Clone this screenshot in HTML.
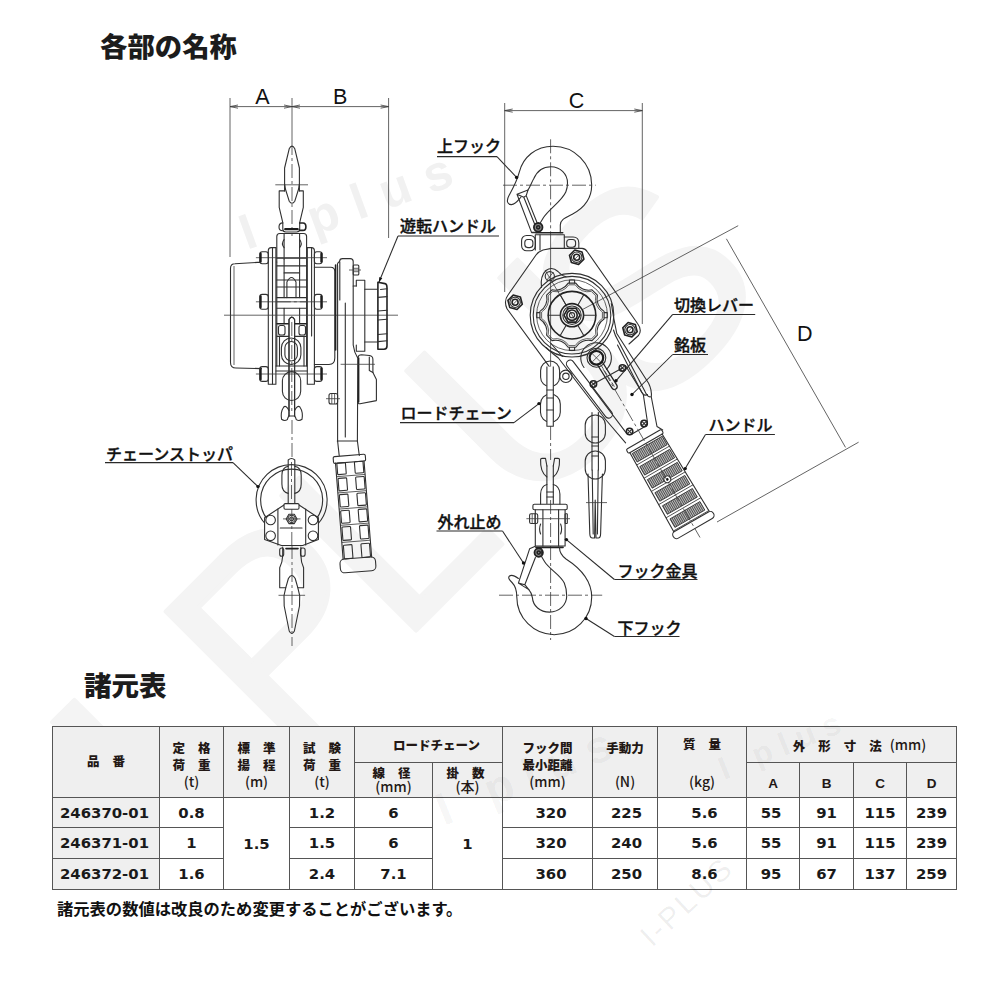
<!DOCTYPE html>
<html lang="ja">
<head>
<meta charset="utf-8">
<title>各部の名称 / 諸元表</title>
<style>
html,body{margin:0;padding:0;background:#fff;}
body{width:1000px;height:993px;position:relative;overflow:hidden;font-family:"Liberation Sans","Noto Sans CJK JP",sans-serif;color:#1a1a1a;}
.page{position:absolute;left:0;top:0;width:1000px;height:993px;overflow:hidden;background:#fff;}
h1,h2{position:absolute;margin:0;font-family:"Liberation Sans","Noto Sans CJK JP",sans-serif;font-weight:900;font-size:27px;line-height:30px;color:#1c1c1c;white-space:nowrap;letter-spacing:0;}
h1{left:100px;top:33px;font-size:27.4px;}
h2{left:84px;top:672px;font-size:27.5px;}
.wm{position:absolute;left:0;top:0;}
.wm2{position:absolute;left:0;top:0;pointer-events:none;}
.dwg{position:absolute;left:0;top:0;}
.dwg .l{fill:none;stroke:#303030;stroke-width:1.1;stroke-linecap:round;stroke-linejoin:round;}
.dwg .t{fill:none;stroke:#3c3c3c;stroke-width:.8;}
.dwg .kk{fill:none;stroke:#1c1c1c;stroke-width:2.2;stroke-linecap:round;}
.dwg .k{fill:none;stroke:#222;stroke-width:1.6;stroke-linecap:round;stroke-linejoin:round;}
.dwg .w{fill:#fff;stroke:#303030;stroke-width:1.1;stroke-linejoin:round;}
.dwg .c{fill:none;stroke:#3c3c3c;stroke-width:.8;stroke-dasharray:14 3 3 3;}
.dwg .ld{fill:none;stroke:#2a2a2a;stroke-width:1.05;}
.dwg .lb{font-family:"Liberation Sans","Noto Sans CJK JP",sans-serif;font-size:16px;font-weight:500;fill:#111;stroke:#111;stroke-width:.35px;}
.dwg .dm{font-family:"Liberation Sans","Noto Sans CJK JP",sans-serif;font-size:21.5px;font-weight:400;fill:#111;}
.note{position:absolute;left:57px;top:896.5px;margin:0;font-size:16.3px;line-height:24px;font-weight:700;color:#111;white-space:nowrap;}

table.spec{position:absolute;left:52px;top:726px;border-collapse:separate;border-spacing:0;table-layout:fixed;width:905px;border-left:1px solid #555;border-top:1px solid #555;}
table.spec th,table.spec td{box-sizing:border-box;border-right:1px solid #555;border-bottom:1px solid #555;padding:0;text-align:center;vertical-align:middle;overflow:hidden;white-space:nowrap;}
table.spec th{background:#efefef;font-family:"Liberation Sans","Noto Sans CJK JP",sans-serif;font-weight:900;font-size:12.5px;line-height:17.4px;color:#231815;padding-top:10px;}
table.spec th .sp{letter-spacing:13px;margin-right:-13px;}
table.spec th .u{font-family:"Noto Sans CJK JP","Liberation Sans",sans-serif;font-weight:500;font-size:14px;letter-spacing:0;line-height:0;position:relative;top:-1px;}
table.spec th.pnh{padding-top:2px;}
table.spec th.lc{padding-left:16px;}
table.spec th.dim{padding-left:16px;}
table.spec th.dim .sp{margin-right:-5px;}
table.spec tr.h2 th .sp{position:relative;left:-2px;}
table.spec th .sp2{letter-spacing:17px;}
table.spec tr.h1{height:36px;}
table.spec tr.h2{height:35px;}
table.spec tr.h1 th.one{padding-top:4px;}
table.spec tr.h1 th.up{padding-top:3px;}
table.spec tr.h1 th.up .u{top:3px;}
table.spec tr.h1 th.dim{padding-top:7px;}
table.spec tr.h2 th.ab{font-size:13.5px;padding-top:7px;}
table.spec tr.h2 th{line-height:15px;padding-top:3px;}
table.spec td{font-family:"DejaVu Sans","Liberation Sans",sans-serif;font-weight:700;font-size:14.9px;line-height:18px;color:#1a1a1a;background:#fff;}
table.spec td.pn{background:#efefef;padding-right:3px;}
table.spec td.c7{padding-left:7px;}
table.spec td.c8{padding-left:3px;}
table.spec td.c9{padding-left:5px;}
table.spec td.c10{padding-right:4px;}
table.spec tr.r1{height:30px;}
table.spec tr.r2{height:31px;}
table.spec tr.r3{height:31px;}

</style>
</head>
<body>
<div class="page">
<svg class="wm" width="1000" height="993" viewBox="0 0 1000 993" aria-hidden="true">
<g font-family="Liberation Sans, sans-serif" fill="#f4f4f4" stroke="#f4f4f4" stroke-width="4" stroke-linejoin="round">
<text transform="translate(194.8,909.2) rotate(-45)" font-size="339">I</text>
<text transform="translate(284.3,762.3) rotate(-45)" font-size="277">P</text>
<text transform="translate(400,646.6) rotate(-45)" font-size="277">L</text>
<text transform="translate(525.9,520.8) rotate(-45)" font-size="277">U</text>
<text transform="translate(644.3,421.3) rotate(-45)" font-size="277">S</text>
</g>
<g font-family="Liberation Sans, sans-serif" font-weight="700" fill="#f1f1f1">
<text transform="translate(247,250) rotate(-20)" font-size="50">I</text>
<text transform="translate(314.5,236) rotate(-20)" font-size="50" letter-spacing="16">plus</text>
</g>
</svg>
<h1>各部の名称</h1>
<svg class="dwg" width="1000" height="660" viewBox="0 0 1000 660">
<defs><pattern id="hatch" width="1.9" height="4" patternUnits="userSpaceOnUse"><rect width="1.9" height="4" fill="#d2d2d2"/><line x1="0.6" y1="0" x2="0.6" y2="4" stroke="#383838" stroke-width=".95"/></pattern></defs>
<line class="t" x1="230.0" y1="98.0" x2="230.0" y2="257.0"/>
<line class="t" x1="388.6" y1="98.0" x2="388.6" y2="238.0"/>
<line class="t" x1="292.0" y1="98.0" x2="292.0" y2="141.0"/>
<line class="t" x1="230.0" y1="106.6" x2="388.6" y2="106.6"/>
<path class="t" d="M238.0,105.0 L230.0,106.6 L238.0,108.2"/>
<path class="t" d="M284.0,108.2 L292.0,106.6 L284.0,105.0"/>
<path class="t" d="M300.0,105.0 L292.0,106.6 L300.0,108.2"/>
<path class="t" d="M380.6,108.2 L388.6,106.6 L380.6,105.0"/>
<text class="dm" x="262.3" y="103.6" text-anchor="middle">A</text>
<text class="dm" x="340.2" y="103.6" text-anchor="middle">B</text>
<line class="c" x1="292.0" y1="141.0" x2="292.0" y2="236.0"/>
<line class="c" x1="292.0" y1="420.0" x2="292.0" y2="460.0"/>
<line class="c" x1="292.0" y1="545.0" x2="292.0" y2="646.0"/>
<path class="l" d="M289.2,148.8 Q292,143.5 294.8,148.8 L299.4,168 L299.4,191 M289.2,148.8 L284.6,168 L284.6,191"/>
<path class="l" d="M284.6,184 L285.4,189 L289.2,201.2 Q292,205.2 294.8,201.2 L298.6,189 L299.4,184"/>
<line class="t" x1="275.3" y1="184.8" x2="308.0" y2="184.8"/>
<path class="l" d="M284.6,190.9 L279.2,190.9 L279.2,207.4 L282.8,222.7 L282.8,229 Q282.8,232 285.8,232 L296.7,232 Q299.7,232 299.7,229 L299.7,222.7 L303.3,207.4 L303.3,190.9 L299.4,190.9"/>
<path class="l" d="M282.8,222.9 Q279,223 279,227 Q279,230.8 282.8,230.8"/>
<path class="k" d="M299.7,223 L303,223 Q305.9,223 305.9,226.7 Q305.9,230.4 303,230.4 L299.7,230.4"/>
<line class="kk" x1="285.2" y1="229.2" x2="297.7" y2="229.2"/>
<path class="l" d="M276.8,262 L276.8,236.5 Q276.8,233.5 279.8,233.5 L303.6,233.5 Q306.6,233.5 306.6,236.5 L306.6,262"/>
<path class="l" d="M284.1,239.6 Q280.8,243.6 284.1,247.7 M299.6,239.6 Q302.9,243.6 299.6,247.7"/>
<line class="l" x1="284.1" y1="234.0" x2="284.1" y2="259.0"/>
<line class="l" x1="299.6" y1="234.0" x2="299.6" y2="259.0"/>
<path class="l" d="M268.3,384.3 L268.3,250.6 Q268.3,247.6 271.3,247.6 L275.9,247.6 L275.9,384.3 Z"/>
<path class="l" d="M307.3,384.3 L307.3,247.6 L311.4,247.6 Q314.4,247.6 314.4,250.6 L314.4,384.3 Z"/>
<line class="l" x1="272.5" y1="248.0" x2="272.5" y2="384.0"/>
<line class="l" x1="311.6" y1="248.0" x2="311.6" y2="336.0"/>
<line class="l" x1="276.8" y1="262.0" x2="276.8" y2="366.0"/>
<line class="l" x1="306.6" y1="262.0" x2="306.6" y2="366.0"/>
<line class="l" x1="276.8" y1="258.1" x2="306.6" y2="258.1"/>
<line class="l" x1="276.8" y1="265.9" x2="306.6" y2="265.9"/>
<line class="l" x1="276.8" y1="280.0" x2="306.6" y2="280.0"/>
<line class="l" x1="276.8" y1="287.0" x2="306.6" y2="287.0"/>
<line class="l" x1="276.8" y1="297.6" x2="306.6" y2="297.6"/>
<line class="l" x1="276.8" y1="308.2" x2="306.6" y2="308.2"/>
<line class="l" x1="284.1" y1="272.9" x2="299.6" y2="272.9"/>
<line class="l" x1="284.1" y1="259.0" x2="284.1" y2="297.6"/>
<line class="l" x1="299.6" y1="259.0" x2="299.6" y2="297.6"/>
<path class="l" d="M286.9,297.6 L286.9,282 Q291.5,273 296,282 L296,297.6"/>
<line class="c" x1="276.8" y1="301.8" x2="306.6" y2="301.8"/>
<line class="l" x1="284.1" y1="308.2" x2="284.1" y2="323.7"/>
<line class="l" x1="299.6" y1="308.2" x2="299.6" y2="323.7"/>
<line class="k" x1="277.0" y1="323.7" x2="306.4" y2="323.7"/>
<line class="l" x1="277.0" y1="336.4" x2="306.4" y2="336.4"/>
<rect class="l" x="278.5" y="325.5" width="6.5" height="9.5" rx="2"/>
<rect class="l" x="299.0" y="325.5" width="6.5" height="9.5" rx="2"/>
<line class="l" x1="279.5" y1="337.0" x2="279.5" y2="366.0"/>
<line class="l" x1="304.0" y1="337.0" x2="304.0" y2="366.0"/>
<path class="w" d="M289,416 L289,319.5 Q291.8,314.8 294.6,319.5 L294.6,416"/>
<line class="c" x1="291.8" y1="322.0" x2="291.8" y2="414.0"/>
<rect class="l" x="281.4" y="338.0" width="19.5" height="26.5" rx="9.75"/>
<rect class="l" x="284.9" y="341.5" width="12.5" height="19.5" rx="6.25"/>
<path class="l" d="M289,416 L289,319.5 Q291.8,314.8 294.6,319.5 L294.6,416"/>
<line class="l" x1="276.0" y1="366.0" x2="307.0" y2="366.0"/>
<line class="l" x1="276.0" y1="371.0" x2="307.0" y2="371.0"/>
<line class="t" x1="255.9" y1="257.7" x2="327.0" y2="257.7"/>
<rect class="l" x="259.8" y="251.7" width="8.5" height="12.0" rx="2.5"/>
<rect class="l" x="314.4" y="251.7" width="7.7" height="12.0" rx="2.5"/>
<line class="kk" x1="260.6" y1="253.7" x2="260.6" y2="261.7"/>
<line class="kk" x1="321.4" y1="253.7" x2="321.4" y2="261.7"/>
<line class="t" x1="255.9" y1="301.8" x2="327.0" y2="301.8"/>
<rect class="l" x="259.8" y="294.4" width="8.5" height="14.8" rx="2.5"/>
<rect class="l" x="314.4" y="294.4" width="7.7" height="14.8" rx="2.5"/>
<line class="kk" x1="260.6" y1="296.4" x2="260.6" y2="307.2"/>
<line class="kk" x1="321.4" y1="296.4" x2="321.4" y2="307.2"/>
<line class="t" x1="255.9" y1="374.0" x2="327.0" y2="374.0"/>
<rect class="l" x="259.8" y="366.6" width="8.5" height="14.8" rx="2.5"/>
<rect class="l" x="314.4" y="366.6" width="7.7" height="14.8" rx="2.5"/>
<line class="kk" x1="260.6" y1="368.6" x2="260.6" y2="379.4"/>
<line class="kk" x1="321.4" y1="368.6" x2="321.4" y2="379.4"/>
<path class="l" d="M259.8,262.4 L257.3,262.4 L235,263.8 Q230.5,263.8 230.5,268.5 L230.5,362.4 Q230.5,368 236,368 L261.5,368.6"/>
<line class="t" x1="234.0" y1="266.0" x2="234.0" y2="365.0"/>
<path class="l" d="M314.4,267.3 L330.6,267.3 Q334.8,267.3 334.8,271.5 L334.8,358 Q334.8,364.5 329,364.5 L314.4,364.5"/>
<line class="t" x1="224.0" y1="315.2" x2="398.0" y2="315.2"/>
<rect class="l" x="282.4" y="371.6" width="18.3" height="28.9" rx="9.15"/>
<path class="l" d="M289,410.5 Q286,404.5 283.6,407.2 Q280.3,412 281.6,419.3 Q284.5,421.5 287.3,419.6 Q288,417 289,416 M294.6,410.5 Q297.6,404.5 300,407.2 Q303.3,412 302,419.3 Q299.1,421.5 296.3,419.6 Q295.6,417 294.6,416"/>
<line class="l" x1="289.0" y1="416.0" x2="294.6" y2="416.0"/>
<line class="k" x1="335.6" y1="265.0" x2="335.6" y2="350.0"/>
<path class="l" d="M337.6,441 L337.6,266 Q336.8,263 339.6,261.5 Q339.6,258.6 342.6,258.6 L350.2,258.6 Q353.2,258.6 353.2,261.6 L353.2,345 Q354,352 357.8,358.3 L357.4,441"/>
<line class="l" x1="339.8" y1="262.0" x2="339.8" y2="300.0"/>
<line class="l" x1="345.3" y1="303.0" x2="345.3" y2="437.0"/>
<rect class="l" x="353.2" y="265.0" width="5.6" height="10.0" rx="1"/>
<line class="t" x1="353.2" y1="268.3" x2="358.8" y2="268.3"/>
<line class="t" x1="353.2" y1="271.7" x2="358.8" y2="271.7"/>
<line class="t" x1="349.0" y1="270.0" x2="361.0" y2="270.0"/>
<path class="l" d="M356.3,286 L356.3,280.3 L364.8,280.3 L364.8,351.2 L356.3,351.2 L356.3,345"/>
<line class="l" x1="353.2" y1="286.0" x2="356.3" y2="286.0"/>
<path class="l" d="M364.8,289.3 L376.9,289.3 M364.8,342 L376.9,342"/>
<path class="k" d="M377.9,349.2 L377.9,282.3 L385,283.6 Q387,284 387,288 L387,346 Q387,349.2 384,349.2 Z"/>
<line class="l" x1="380.5" y1="289.5" x2="387.0" y2="288.7"/>
<line class="l" x1="378.0" y1="297.4" x2="387.0" y2="296.6"/>
<line class="l" x1="378.0" y1="311.0" x2="387.0" y2="310.2"/>
<line class="l" x1="378.0" y1="320.0" x2="387.0" y2="319.2"/>
<line class="l" x1="378.0" y1="334.5" x2="387.0" y2="333.7"/>
<line class="l" x1="378.0" y1="341.6" x2="387.0" y2="340.8"/>
<path class="l" d="M357.8,357.5 Q358.5,354.7 361.5,354.7 L369.5,355.5 Q372.9,356 372.9,359.5 L372.9,372.4 L376.4,379.4 L376.4,400.6 L360,403.8 Q357.8,404 357.8,401.5"/>
<path class="l" d="M369.3,357 L369.3,370.5 L372.9,372.4"/>
<line class="k" x1="358.6" y1="358.0" x2="358.6" y2="402.0"/>
<line class="t" x1="340.6" y1="364.3" x2="374.9" y2="364.3"/>
<rect class="l" x="329.0" y="393.5" width="8.6" height="10.5" rx="2"/>
<line class="t" x1="331.8" y1="393.5" x2="331.8" y2="404.0"/>
<line class="t" x1="334.6" y1="393.5" x2="334.6" y2="404.0"/>
<line class="t" x1="326.0" y1="398.7" x2="340.0" y2="398.7"/>
<line class="l" x1="337.3" y1="441.0" x2="357.4" y2="441.0"/>
<path class="l" d="M337.6,441 L339.2,455.5 M357.4,441 L359.3,455.5"/>
<g transform="translate(349.75,462) rotate(-4.55)">
<rect class="l" x="-16.2" y="-6.6" width="32.2" height="6.8" rx="1.5"/>
<line class="l" x1="-14.3" y1="0.0" x2="-14.3" y2="96.3"/>
<line class="l" x1="14.3" y1="0.0" x2="14.3" y2="96.3"/>
<rect class="l" x="-17.8" y="96.3" width="35.6" height="13.8" rx="4.5"/>
<rect class="l" x="-13.0" y="0.2" width="8.6" height="11.5" rx="0.8"/>
<rect class="l" x="4.6" y="0.2" width="8.6" height="11.5" rx="0.8"/>
<line class="t" x1="-14.3" y1="13.6" x2="14.3" y2="13.6"/>
<rect class="l" x="-13.0" y="15.5" width="8.6" height="12.5" rx="0.8"/>
<rect class="l" x="4.6" y="15.5" width="8.6" height="12.5" rx="0.8"/>
<line class="t" x1="-14.3" y1="29.9" x2="14.3" y2="29.9"/>
<rect class="l" x="-13.0" y="31.8" width="8.6" height="12.4" rx="0.8"/>
<rect class="l" x="4.6" y="31.8" width="8.6" height="12.4" rx="0.8"/>
<line class="t" x1="-14.3" y1="46.1" x2="14.3" y2="46.1"/>
<rect class="l" x="-13.0" y="48.0" width="8.6" height="12.5" rx="0.8"/>
<rect class="l" x="4.6" y="48.0" width="8.6" height="12.5" rx="0.8"/>
<line class="t" x1="-14.3" y1="62.4" x2="14.3" y2="62.4"/>
<rect class="l" x="-13.0" y="64.3" width="8.6" height="13.4" rx="0.8"/>
<rect class="l" x="4.6" y="64.3" width="8.6" height="13.4" rx="0.8"/>
<line class="t" x1="-14.3" y1="79.6" x2="14.3" y2="79.6"/>
<rect class="l" x="-13.0" y="82.5" width="8.6" height="13.7" rx="0.8"/>
<rect class="l" x="4.6" y="82.5" width="8.6" height="13.7" rx="0.8"/>
</g>
<path class="l" d="M288.2,503 L288.2,460 Q291.5,457 294.8,460 L294.8,503"/>
<line class="c" x1="291.5" y1="462.0" x2="291.5" y2="500.0"/>
<path class="l" d="M264.9,523.5 A35.5,35.5 0 1 1 318.3,523.5"/>
<path class="l" d="M268.3,520.5 A31,31 0 1 1 315,520.5"/>
<path class="l" d="M288.2,466.3 Q281.9,467.5 281.9,475.5 L281.9,484 Q281.9,492 288.2,493.4 M294.8,466.3 Q301.2,467.5 301.2,475.5 L301.2,484 Q301.2,492 294.8,493.4"/>
<path class="w" d="M284,505 L264.6,517.7 L264.6,539.4 L281.5,545.5 L302.7,545.5 L318.4,539.4 L318.4,517.7 L299,505 Z"/>
<rect class="w" x="284.0" y="503.6" width="15.0" height="5.6" rx="1.2"/>
<line class="l" x1="277.9" y1="509.0" x2="277.9" y2="545.0"/>
<line class="l" x1="305.7" y1="509.0" x2="305.7" y2="545.0"/>
<circle class="l" cx="270.6" cy="520.0" r="4.8"/>
<circle class="l" cx="270.6" cy="535.8" r="4.8"/>
<circle class="l" cx="313.0" cy="520.0" r="4.8"/>
<circle class="l" cx="313.0" cy="535.8" r="4.8"/>
<path class="l" d="M297.0,518.9 L294.3,523.6 L288.9,523.6 L286.2,518.9 L288.9,514.2 L294.3,514.2 Z"/>
<circle class="l" cx="291.6" cy="518.9" r="3.6"/>
<circle class="l" cx="291.6" cy="518.9" r="1.9"/>
<line class="t" x1="283.0" y1="518.9" x2="300.5" y2="518.9"/>
<line class="l" x1="280.3" y1="528.0" x2="302.0" y2="528.0"/>
<line class="c" x1="291.8" y1="509.0" x2="291.8" y2="545.0"/>
<rect class="l" x="279.7" y="548.0" width="4.0" height="8.3" rx="2"/>
<rect class="l" x="300.5" y="548.0" width="4.6" height="8.3" rx="2"/>
<line class="k" x1="286.0" y1="548.6" x2="298.0" y2="548.6"/>
<path class="l" d="M282.7,547 L282.7,555.7 Q282.5,562 279.7,567.8 L279.7,587.7 L285.8,587.7 L288.4,578.5 Q291.8,572.5 295.2,578.5 L297.8,587.7 L303.6,587.7 L303.6,567.8 Q300.9,562 300.9,555.7 L300.9,547"/>
<path class="l" d="M285.8,587.7 L284,595.6 L284.2,606 L289.2,631 Q291.8,636 294.4,631 L299.5,606 L299.7,595.6 L297.8,587.7"/>
<line class="t" x1="278.5" y1="595.3" x2="305.1" y2="595.3"/>
<line class="t" x1="504.7" y1="103.0" x2="504.7" y2="292.0"/>
<line class="t" x1="642.3" y1="103.0" x2="642.3" y2="324.0"/>
<line class="t" x1="504.7" y1="110.6" x2="642.3" y2="110.6"/>
<path class="t" d="M512.7,109.0 L504.7,110.6 L512.7,112.2"/>
<path class="t" d="M634.3,112.2 L642.3,110.6 L634.3,109.0"/>
<text class="dm" x="576.4" y="107.6" text-anchor="middle">C</text>
<line class="t" x1="582.0" y1="309.8" x2="738.2" y2="225.7"/>
<line class="t" x1="726.4" y1="238.8" x2="845.5" y2="447.4"/>
<line class="t" x1="717.0" y1="522.0" x2="858.6" y2="442.2"/>
<text class="dm" x="804.7" y="340.9" text-anchor="middle">D</text>
<line class="c" x1="550.6" y1="139.3" x2="550.6" y2="236.0"/>
<line class="c" x1="503.0" y1="185.2" x2="595.7" y2="185.2"/>
<line class="t" x1="550.6" y1="236.0" x2="550.6" y2="372.0"/>
<line class="c" x1="550.6" y1="426.0" x2="550.6" y2="460.0"/>
<line class="c" x1="550.6" y1="500.0" x2="550.6" y2="640.0"/>
<line class="c" x1="499.0" y1="595.2" x2="602.2" y2="595.2"/>
<path class="l" d="M560.3,232.8 L560.3,225 C560.3,219.5 566,217.5 572.3,214.2 C584,208 591.7,198 591.7,185 C591.7,163.5 574.5,146.2 553,146.2 C536,146.2 523,157 519.2,172.3 C517,181 512.5,189 509,195.5 C506,201 507.5,204.8 511.5,204.6 C515.5,204.4 518,200.5 521,197"/>
<path class="l" d="M528,190 C530.5,186 531.8,182 533.7,178.8 C537,171 543.5,166.7 551,166.7 C560,166.7 567.5,174 567.5,183 C567.5,186 567,189 565.9,191.7 C562,201 549,209 543.5,217.5 L540.5,222.5"/>
<path class="l" d="M517,194.3 L528,190 L526.2,195.6 L537,222.5 M517,194.3 L523.8,197.2 L526.2,195.6 M517,194.3 L531.5,232.4 L536.5,232.4 M523.8,197.2 L534.8,224.5"/>
<circle cx="538.2" cy="227.3" r="4.3" fill="#8a8a8a" stroke="#222" stroke-width="1.8"/>
<circle class="k" cx="538.2" cy="227.3" r="1.6"/>
<line class="k" x1="536.0" y1="232.8" x2="562.7" y2="232.8"/>
<line class="l" x1="532.0" y1="232.8" x2="536.0" y2="232.8"/>
<path class="l" d="M535.3,250 L535.3,234.7 L564.3,234.7 L564.3,248.4"/>
<rect class="l" x="521.6" y="235.5" width="13.7" height="15.3" rx="5"/>
<rect class="l" x="524.8" y="239.5" width="8.1" height="8.1" rx="3"/>
<path class="l" d="M564.3,237 L573,237 Q578.8,237 578.8,243 L578.8,248.4"/>
<rect class="l" x="566.7" y="239.5" width="8.9" height="7.8" rx="3"/>
<line class="l" x1="540.0" y1="235.0" x2="540.0" y2="250.0"/>
<path class="l" d="M507,308.8 L550.6,368.4 M507,308.8 Q503.5,301 508,295 L536,255 Q538.5,251.5 543,250 L551.4,248.4 L582,248.4 Q585.5,248.6 587.5,252 L637.5,323.5 Q642.5,330 638.5,335.5 L629,344"/>
<path class="k" d="M583.9,259.1 L578.6,264.4 L571.4,262.5 L569.5,255.3 L574.8,250.0 L582.0,251.9 Z"/>
<circle class="l" cx="576.7" cy="257.2" r="5.2"/>
<circle class="k" cx="576.7" cy="257.2" r="3.0"/>
<line class="t" x1="574.7" y1="259.2" x2="578.7" y2="255.2"/>
<path class="k" d="M522.3,304.2 L517.0,309.5 L509.8,307.6 L507.9,300.4 L513.2,295.1 L520.4,297.0 Z"/>
<circle class="l" cx="515.1" cy="302.3" r="5.2"/>
<circle class="k" cx="515.1" cy="302.3" r="3.0"/>
<line class="t" x1="513.1" y1="304.3" x2="517.1" y2="300.3"/>
<path class="k" d="M637.2,331.6 L631.9,336.9 L624.7,335.0 L622.8,327.8 L628.1,322.5 L635.3,324.4 Z"/>
<circle class="l" cx="630.0" cy="329.7" r="5.2"/>
<circle class="k" cx="630.0" cy="329.7" r="3.0"/>
<line class="t" x1="628.0" y1="331.7" x2="632.0" y2="327.7"/>
<circle class="l" cx="572.0" cy="315.2" r="41.8"/>
<circle class="l" cx="572.0" cy="315.2" r="38.8"/>
<circle class="t" cx="572.0" cy="315.2" r="35.4"/>
<path class="l" d="M541.5,287.5 Q540,276 546,270.5 Q552,266 558,271.5 Q562,276 566,276.8"/>
<circle class="l" cx="549.8" cy="276.2" r="4.6"/>
<line class="t" x1="545.0" y1="270.0" x2="575.0" y2="320.0"/>
<line class="t" x1="546.5" y1="280.5" x2="553.5" y2="272.0"/>
<path class="l" d="M604.1,311.4 L604.1,319.0 A15.0,15.0 0 0 0 597.4,335.2 L592.0,340.6 A15.0,15.0 0 0 0 575.8,347.3 L568.2,347.3 A15.0,15.0 0 0 0 552.0,340.6 L546.6,335.2 A15.0,15.0 0 0 0 539.9,319.0 L539.9,311.4 A15.0,15.0 0 0 0 546.6,295.2 L552.0,289.8 A15.0,15.0 0 0 0 568.2,283.1 L575.8,283.1 A15.0,15.0 0 0 0 592.0,289.8 L597.4,295.2 A15.0,15.0 0 0 0 604.1,311.4 Z"/>
<path class="t" d="M602.4,312.0 L602.4,318.4 A15.0,15.0 0 0 0 595.8,334.5 L591.3,339.0 A15.0,15.0 0 0 0 575.2,345.6 L568.8,345.6 A15.0,15.0 0 0 0 552.7,339.0 L548.2,334.5 A15.0,15.0 0 0 0 541.6,318.4 L541.6,312.0 A15.0,15.0 0 0 0 548.2,295.9 L552.7,291.4 A15.0,15.0 0 0 0 568.8,284.8 L575.2,284.8 A15.0,15.0 0 0 0 591.3,291.4 L595.8,295.9 A15.0,15.0 0 0 0 602.4,312.0 Z"/>
<path class="l" d="M604.3,317.8 L607.2,317.8 L607.2,312.6 L604.3,312.6"/>
<path class="l" d="M569.4,347.5 L569.4,350.4 L574.6,350.4 L574.6,347.5"/>
<path class="l" d="M539.7,312.6 L536.8,312.6 L536.8,317.8 L539.7,317.8"/>
<path class="l" d="M574.6,282.9 L574.6,280.0 L569.4,280.0 L569.4,282.9"/>
<circle class="k" cx="572.0" cy="315.2" r="23.8"/>
<circle class="k" cx="572.0" cy="315.2" r="11.6"/>
<circle class="l" cx="572.0" cy="315.2" r="9.2"/>
<path class="k" d="M580.0,315.2 L576.0,322.1 L568.0,322.1 L564.0,315.2 L568.0,308.3 L576.0,308.3 Z"/>
<circle class="k" cx="572.0" cy="315.2" r="5.2"/>
<circle class="l" cx="572.0" cy="315.2" r="2.6"/>
<line class="l" x1="583.6" y1="315.2" x2="595.8" y2="315.2"/>
<line class="l" x1="577.8" y1="325.2" x2="583.9" y2="335.8"/>
<line class="l" x1="566.2" y1="325.2" x2="560.1" y2="335.8"/>
<line class="l" x1="560.4" y1="315.2" x2="548.2" y2="315.2"/>
<line class="l" x1="566.2" y1="305.2" x2="560.1" y2="294.6"/>
<line class="l" x1="577.8" y1="305.2" x2="583.9" y2="294.6"/>
<path class="l" d="M611.3,303.5 Q613.5,318 616.8,333.5 L648.6,383.2 Q652,390 651.3,397 L657,426.5 L662.7,430"/>
<path class="l" d="M613.5,330 Q615,335.5 618,340.5 L644.5,390.5 Q647.5,397.5 650.5,396.8"/>
<path class="l" d="M617.5,345 L641.5,392 Q644,396.5 647.5,394.5"/>
<path class="l" d="M546,347.5 Q553,354 558.4,358 L605.6,419.5 L625.6,442.8"/>
<path class="l" d="M551,343.5 Q556.5,350 562.4,356.5"/>
<g transform="translate(565.5,364) rotate(-37.3)"><rect class="l" x="0" y="-1" width="7.6" height="71" rx="3.8"/></g>
<circle class="l" cx="565.9" cy="376.3" r="6.2"/>
<circle class="l" cx="565.9" cy="376.3" r="3.2"/>
<path class="l" d="M584,367.5 A15.3,15.3 0 1 1 606.5,369.3"/>
<circle class="l" cx="596.4" cy="357.8" r="9.4"/>
<circle class="kk" cx="596.4" cy="357.8" r="6.8"/>
<line class="t" x1="592.4" y1="353.8" x2="600.4" y2="361.8"/>
<line class="t" x1="592.4" y1="361.8" x2="600.4" y2="353.8"/>
<g transform="translate(596.4,357.8) rotate(-32)"><path class="k" d="M-2.8,7 L-2.8,34 A2.8,2.8 0 0 0 2.8,34 L2.8,7" style="stroke-width:1.3"/><line class="c" x1="0" y1="8" x2="0" y2="34" style="stroke-dasharray:5 2"/></g>
<path class="l" d="M593.4,384 L622.4,367.9 M591.3,386.5 L626.4,433.2 Q629,435.5 632,434 L645,426.5 Q647.8,424.5 647.3,421 L643.3,394.5 L625.5,365.5"/>
<circle class="k" cx="622.4" cy="367.9" r="3.2"/>
<line class="l" x1="620.2" y1="365.7" x2="624.6" y2="370.1"/>
<line class="l" x1="620.2" y1="370.1" x2="624.6" y2="365.7"/>
<circle class="k" cx="593.4" cy="384.0" r="3.2"/>
<line class="l" x1="591.2" y1="381.8" x2="595.6" y2="386.2"/>
<line class="l" x1="591.2" y1="386.2" x2="595.6" y2="381.8"/>
<circle class="k" cx="644.1" cy="423.5" r="3.2"/>
<line class="l" x1="641.9" y1="421.3" x2="646.3" y2="425.7"/>
<line class="l" x1="641.9" y1="425.7" x2="646.3" y2="421.3"/>
<circle class="k" cx="629.6" cy="431.5" r="3.2"/>
<line class="l" x1="627.4" y1="429.3" x2="631.8" y2="433.7"/>
<line class="l" x1="627.4" y1="433.7" x2="631.8" y2="429.3"/>
<g transform="translate(572.0,315.2) rotate(-30)">
<rect class="w" x="-20.3" y="143.4" width="40.6" height="4.6" rx="1.5"/>
<line class="l" x1="-18.6" y1="148.0" x2="-20.2" y2="238.5"/>
<line class="l" x1="18.6" y1="148.0" x2="20.8" y2="238.5"/>
<rect x="-17" y="149.9" width="34.6" height="9.8" fill="url(#hatch)" stroke="#333" stroke-width=".8"/>
<line class="t" x1="-18.8" y1="162.1" x2="19.0" y2="162.1"/>
<rect x="-17" y="165.0" width="34.6" height="9.8" fill="url(#hatch)" stroke="#333" stroke-width=".8"/>
<line class="t" x1="-19.1" y1="177.2" x2="19.4" y2="177.2"/>
<rect x="-17" y="180.1" width="34.6" height="9.8" fill="url(#hatch)" stroke="#333" stroke-width=".8"/>
<line class="t" x1="-19.3" y1="192.3" x2="19.7" y2="192.3"/>
<rect x="-17" y="195.2" width="34.6" height="9.8" fill="url(#hatch)" stroke="#333" stroke-width=".8"/>
<line class="t" x1="-19.6" y1="207.4" x2="20.1" y2="207.4"/>
<rect x="-17" y="210.3" width="34.6" height="9.8" fill="url(#hatch)" stroke="#333" stroke-width=".8"/>
<line class="t" x1="-19.9" y1="222.5" x2="20.4" y2="222.5"/>
<rect x="-17" y="225.4" width="34.6" height="9.8" fill="url(#hatch)" stroke="#333" stroke-width=".8"/>
<line class="t" x1="-20.2" y1="237.6" x2="20.8" y2="237.6"/>
<rect class="w" x="-23" y="238.6" width="46.4" height="7.6" rx="3.6"/>
<circle class="w" cx="0.5" cy="189.8" r="3.4"/>
<circle cx="0.5" cy="189.8" r="1.3" fill="#111"/>
</g>
<line class="c" x1="603.0" y1="369.0" x2="700.0" y2="537.5"/>
<rect class="l" x="540.6" y="361.0" width="19.0" height="25.7" rx="9.5"/>
<rect class="l" x="540.5" y="394.0" width="19.8" height="28.2" rx="9.9"/>
<path class="w" d="M546.9,366.6 L546.9,426.2 L553.3,426.2 L553.3,366.6"/>
<line class="l" x1="546.9" y1="390.0" x2="553.3" y2="390.0"/>
<line class="l" x1="546.9" y1="398.0" x2="553.3" y2="398.0"/>
<line class="l" x1="546.9" y1="410.0" x2="553.3" y2="410.0"/>
<path class="l" d="M540.6,459.5 Q540.6,458.4 542,458.4 L545.5,458.4 L546.9,466 M559.5,459.5 Q559.5,458.4 558,458.4 L554.6,458.4 L553.3,466 M540.6,459.5 Q540,472 546.9,477 M559.5,459.5 Q560,472 553.3,477"/>
<path class="l" d="M546.9,465.7 L546.9,503.5 M553.3,465.7 L553.3,503.5"/>
<path class="l" d="M546.9,484.5 Q541,486 540.6,494 L540.6,504 M553.3,484.5 Q559.5,486 559.9,494 L559.9,504"/>
<line class="l" x1="546.9" y1="492.0" x2="553.3" y2="492.0"/>
<line class="l" x1="546.9" y1="497.0" x2="553.3" y2="497.0"/>
<rect class="l" x="585.2" y="415.0" width="20.2" height="28.0" rx="10.1"/>
<rect class="l" x="585.2" y="451.0" width="20.2" height="28.0" rx="10.1"/>
<path class="l" d="M592,412.5 L592,470 M598.4,412.5 L598.4,470"/>
<line class="l" x1="592.0" y1="437.0" x2="598.4" y2="437.0"/>
<line class="l" x1="592.0" y1="446.0" x2="598.4" y2="446.0"/>
<line class="l" x1="592.0" y1="456.0" x2="598.4" y2="456.0"/>
<path class="l" d="M588,474 L589.8,534 Q590,538 592.5,538 L594.6,538 L595.2,500 L596,538 L598.2,538 Q600.5,538 600.6,534 L602.4,474"/>
<path class="l" d="M592.2,470 L593.2,534 M598.2,470 L597.4,534"/>
<line class="t" x1="586.0" y1="502.6" x2="607.0" y2="502.6"/>
<rect class="l" x="532.9" y="504.2" width="34.3" height="5.6" rx="1.5"/>
<path class="l" d="M535.3,509.8 L535.3,546 L565.1,546 L565.1,509.8"/>
<path class="l" d="M542.9,509.8 L542.9,546 M558.6,509.8 L558.6,546"/>
<path class="l" d="M540.6,524 Q538.6,529 540.6,534 M560.6,524 Q562.6,529 560.6,534"/>
<rect class="l" x="529.6" y="513.8" width="8.1" height="9.7" rx="1.5"/>
<line class="t" x1="532.2" y1="513.8" x2="532.2" y2="523.5"/>
<line class="t" x1="534.8" y1="513.8" x2="534.8" y2="523.5"/>
<rect class="l" x="565.1" y="513.8" width="2.2" height="9.7" rx="0.5"/>
<line class="t" x1="526.4" y1="518.7" x2="570.0" y2="518.7"/>
<line class="k" x1="536.0" y1="547.4" x2="563.0" y2="547.4"/>
<path class="l" d="M559.5,547.4 C559.5,552 561.5,555.5 566,559 C580,568 591.7,580 591.7,597 C591.7,618 575,634.7 554.2,634.7 C534,634.7 516.8,618 516.8,597 C516.8,590 515.5,586 512,582.5 C509,579.5 507.8,577.5 509.5,576 C511.5,574.5 515,576 518.4,578.5"/>
<path class="l" d="M528.8,589.6 C531,592 532,594.5 532.4,597.6 C533,606 540,612.1 549.5,612.1 C559,612.1 566.7,605 566.7,596 C566.7,591 566,587 564.3,583 C560.5,575 549,569 544.5,561.5 L541.5,556.5"/>
<path class="l" d="M535.3,546.3 L529.6,548.8 L518.4,583.1 L528.8,589.6 L524.8,584.7 L535.4,557.5 M518.4,583.1 L524.8,584.7"/>
<circle cx="538.7" cy="552.6" r="4.2" fill="#8a8a8a" stroke="#222" stroke-width="1.8"/>
<circle class="k" cx="538.7" cy="552.6" r="1.6"/>
<path class="l" d="M541.5,556.5 L541.5,547.4"/>
<text class="lb" x="437.0" y="151.6" letter-spacing="0">上フック</text>
<line class="ld" x1="437.0" y1="156.6" x2="497.0" y2="156.6"/>
<line class="ld" x1="497.0" y1="156.6" x2="516.6" y2="177.4"/>
<circle cx="516.6" cy="177.4" r="1.7" fill="#111"/>
<text class="lb" x="400.0" y="232.3" letter-spacing="0">遊転ハンドル</text>
<line class="ld" x1="398.0" y1="236.0" x2="499.0" y2="236.0"/>
<line class="ld" x1="398.0" y1="236.0" x2="378.9" y2="282.3"/>
<path d="M378.9,282.3 L379.3,277.1 L382.3,278.3 Z" fill="#111"/>
<text class="lb" x="674.0" y="310.6" letter-spacing="0">切換レバー</text>
<line class="ld" x1="672.7" y1="314.4" x2="755.2" y2="314.4"/>
<line class="ld" x1="672.7" y1="314.4" x2="616.0" y2="380.8"/>
<circle cx="616.0" cy="380.8" r="1.7" fill="#111"/>
<text class="lb" x="674.0" y="351.0" letter-spacing="0">銘板</text>
<line class="ld" x1="672.7" y1="354.5" x2="708.0" y2="354.5"/>
<line class="ld" x1="672.7" y1="354.5" x2="632.0" y2="394.5"/>
<circle cx="632.0" cy="394.5" r="1.7" fill="#111"/>
<text class="lb" x="708.6" y="431.0" letter-spacing="0">ハンドル</text>
<line class="ld" x1="705.5" y1="434.4" x2="774.9" y2="434.4"/>
<line class="ld" x1="705.5" y1="434.4" x2="685.2" y2="468.6"/>
<circle cx="685.2" cy="468.6" r="1.7" fill="#111"/>
<text class="lb" x="400.5" y="419.3" letter-spacing="0">ロードチェーン</text>
<line class="ld" x1="400.0" y1="422.6" x2="514.0" y2="422.6"/>
<line class="ld" x1="514.0" y1="422.6" x2="539.0" y2="403.6"/>
<circle cx="539.0" cy="403.6" r="1.7" fill="#111"/>
<text class="lb" x="106.0" y="459.5" letter-spacing="0">チェーンストッパ</text>
<line class="ld" x1="105.0" y1="462.6" x2="233.0" y2="462.6"/>
<line class="ld" x1="233.0" y1="462.6" x2="258.0" y2="486.6"/>
<circle cx="258.0" cy="486.6" r="1.7" fill="#111"/>
<text class="lb" x="437.5" y="527.8" letter-spacing="0">外れ止め</text>
<line class="ld" x1="436.5" y1="531.0" x2="502.5" y2="531.0"/>
<line class="ld" x1="502.5" y1="531.0" x2="523.5" y2="563.0"/>
<circle cx="523.5" cy="563.0" r="1.7" fill="#111"/>
<text class="lb" x="617.5" y="576.7" letter-spacing="0">フック金具</text>
<line class="ld" x1="614.4" y1="579.5" x2="697.5" y2="579.5"/>
<line class="ld" x1="614.4" y1="579.5" x2="566.4" y2="539.6"/>
<circle cx="566.4" cy="539.6" r="1.7" fill="#111"/>
<text class="lb" x="617.5" y="633.7" letter-spacing="0">下フック</text>
<line class="ld" x1="614.4" y1="636.5" x2="679.5" y2="636.5"/>
<line class="ld" x1="614.4" y1="636.5" x2="586.0" y2="618.5"/>
<circle cx="586.0" cy="618.5" r="1.7" fill="#111"/>
</svg>
<h2>諸元表</h2>
<table class="spec">
<colgroup><col style="width:107px"><col style="width:64px"><col style="width:66px"><col style="width:65px"><col style="width:78px"><col style="width:70px"><col style="width:90px"><col style="width:65px"><col style="width:89px"><col style="width:53px"><col style="width:54px"><col style="width:53px"><col style="width:50px"></colgroup>
<thead>
<tr class="h1">
<th rowspan="2" class="pnh"><span class="sp">品番</span></th>
<th rowspan="2"><span class="sp">定格</span><br><span class="sp">荷重</span><br><span class="u">(t)</span></th>
<th rowspan="2"><span class="sp">標準</span><br><span class="sp">揚程</span><br><span class="u">(m)</span></th>
<th rowspan="2"><span class="sp">試験</span><br><span class="sp">荷重</span><br><span class="u">(t)</span></th>
<th colspan="2" class="one lc">ロードチェーン</th>
<th rowspan="2">フック間<br>最小距離<br><span class="u">(mm)</span></th>
<th rowspan="2">手動力<br>&nbsp;<br><span class="u">(N)</span></th>
<th rowspan="2" class="up"><span class="sp">質量</span><br>&nbsp;<br><span class="u">(kg)</span></th>
<th colspan="4" class="one dim"><span class="sp">外形寸法</span><span class="u">(mm)</span></th>
</tr>
<tr class="h2">
<th><span class="sp">線径</span><br><span class="u">(mm)</span></th>
<th><span class="sp">掛数</span><br><span class="u">(本)</span></th>
<th class="ab">A</th><th class="ab">B</th><th class="ab">C</th><th class="ab">D</th>
</tr>
</thead>
<tbody>
<tr class="r1"><td class="pn">246370-01</td><td>0.8</td><td rowspan="3">1.5</td><td>1.2</td><td>6</td><td rowspan="3">1</td><td class="c7">320</td><td class="c8">225</td><td class="c9">5.6</td><td class="c10">55</td><td>91</td><td>115</td><td>239</td></tr>
<tr class="r2"><td class="pn">246371-01</td><td>1</td><td>1.5</td><td>6</td><td class="c7">320</td><td class="c8">240</td><td class="c9">5.6</td><td class="c10">55</td><td>91</td><td>115</td><td>239</td></tr>
<tr class="r3"><td class="pn">246372-01</td><td>1.6</td><td>2.4</td><td>7.1</td><td class="c7">360</td><td class="c8">250</td><td class="c9">8.6</td><td class="c10">95</td><td>67</td><td>137</td><td>259</td></tr>
</tbody>
</table>

<p class="note">諸元表の数値は改良のため変更することがございます。</p>
<svg class="wm2" width="1000" height="993" viewBox="0 0 1000 993" aria-hidden="true">
<g font-family="Liberation Sans, sans-serif" font-weight="700" fill="rgba(0,0,0,.055)">
<text transform="translate(444,826) rotate(-22)" font-size="46" letter-spacing="13">I plus</text>
<text transform="translate(724,780) rotate(-22)" font-size="32" letter-spacing="9">I plus</text>
</g>
<g font-family="Liberation Sans, sans-serif" font-weight="400" fill="rgba(0,0,0,.07)">
<text transform="translate(652,948) rotate(-43)" font-size="30" letter-spacing="3">I-PLUS</text>
</g>
</svg>
</div>
</body>
</html>
